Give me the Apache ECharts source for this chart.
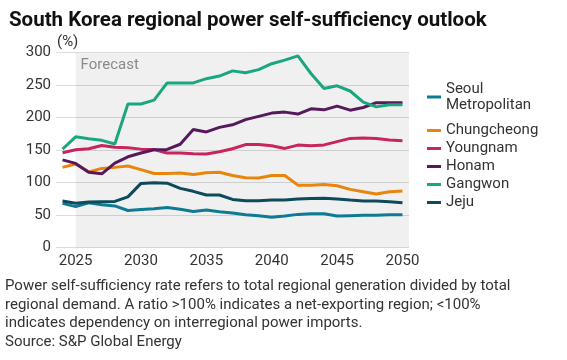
<!DOCTYPE html>
<html><head><meta charset="utf-8">
<script src="https://cdn.jsdelivr.net/npm/echarts@6/dist/echarts.min.js"></script>
<style>html,body{margin:0;padding:0;background:#fff}#c{width:567px;height:360px}</style>
</head><body><div id="c"></div>
<script>
const years = [2024,2025,2026,2027,2028,2029,2030,2031,2032,2033,2034,2035,2036,2037,2038,2039,2040,2041,2042,2043,2044,2045,2046,2047,2048,2049,2050];
const xTickLabels = [2025,2030,2035,2040,2045,2050];
const seriesNames = ['Seoul Metropolitan','Chungcheong','Youngnam','Honam','Gangwon','Jeju'];
const seoul = [68,63,69,66,64,57,58.5,59.7,61.5,59,55.5,57.7,55,53,50.5,49,46.5,48.5,51,52,52,48.5,49,49.5,49.5,50.5,50.5];
const chungcheong = [123.4,128.5,116.5,121.8,123.4,125.5,120,114,114,114.8,112.5,115,116,111,107.4,107,111,111,96,96,97,95,89.5,86,82.5,86,87];
const youngnam = [146,150.5,152,157,154.5,153.5,151.5,151,145.5,145.5,144.5,144,147.4,152,158.5,158.5,156.6,152.6,157.7,156.6,158,163,168,168.5,168,165.4,164.4];
const honam = [135,129.5,116,113.5,130,139.7,145.5,150.5,151,159,181.8,178,185,189,197,202,207,208.5,205.5,213.5,212,217.7,211.5,215.6,223,223,223];
const gangwon = [151.5,170.5,167.5,165,159.5,221,221,227,253.5,253.5,253.5,260,264,272,269,274,283,288.5,295,268,245,249,241,224,216.6,220,220];
const jeju = [71.5,68,70,70.5,71,78,98.7,99.7,99,91,86.5,80.8,80.8,74,72,72,73,73,74.6,75.6,76,74.6,73,71.5,71.5,70.5,69];
const forecastStart = 2025;
const xMin = 2023.5, xMax = 2050.5;

const values = [seoul, chungcheong, youngnam, honam, gangwon, jeju];
const colors = ['#0E7A94','#E8850C','#C8245E','#561A5C','#1AA77F','#0C4A5C'];
const FONT = 'Roboto, "Noto Sans", sans-serif';

const chart = echarts.init(document.getElementById('c'), null, {renderer:'canvas'});
const series = seriesNames.map((n, i) => {
  const s = {
    name: n, type: 'line', showSymbol: false, symbol: 'none',
    lineStyle: {width: 3, color: colors[i]}, itemStyle: {color: colors[i]},
    data: years.map((y, k) => [y, values[i][k]]),
    z: 3
  };
  if (i === 0) {
    s.markArea = {
      silent: true,
      itemStyle: {color: 'rgba(0,0,0,0.06)'},
      label: {show: true, position: 'insideTopLeft', formatter: 'Forecast', color: '#8a8a8a',
              fontSize: 15, fontFamily: FONT, distance: 5},
      data: [[{xAxis: forecastStart, yAxis: 300}, {xAxis: xMax, yAxis: 0}]]
    };
  }
  return s;
});

chart.setOption({
  animation: false,
  textStyle: {fontFamily: FONT},
  color: colors,
  title: {text: 'South Korea regional power self-sufficiency outlook', left: 4, top: 5,
    textStyle: {fontSize: 20.5, fontWeight: 'bold', color: '#111', fontFamily: FONT}},
  grid: {left: 56, right: 158, top: 52.7, bottom: 112.5, containLabel: false},
  xAxis: {
    type: 'value', min: xMin, max: xMax,
    axisLine: {show: false}, axisTick: {show: false}, splitLine: {show: false},
    axisLabel: {customValues: xTickLabels, color: '#333', fontSize: 15, margin: 6, fontFamily: FONT,
      formatter: v => String(v)}
  },
  yAxis: {
    type: 'value', min: 0, max: 300, interval: 50,
    axisLine: {show: false}, axisTick: {show: false},
    splitLine: {lineStyle: {color: '#dcdcdc', width: 1}},
    axisLabel: {color: '#333', fontSize: 15, margin: 5, fontFamily: FONT}
  },
  legend: {
    orient: 'vertical', left: 427, top: 73, padding: 0, itemGap: 1,
    icon: 'rect', itemWidth: 14, itemHeight: 3,
    textStyle: {fontSize: 15, color: '#333', lineHeight: 17, fontFamily: FONT},
    formatter: n => n === 'Seoul Metropolitan' ? 'Seoul\nMetropolitan' : n,
    data: seriesNames.map((n, i) => i === 0
      ? {name: n, textStyle: {lineHeight: 16, padding: [16, 0, 0, 0]}}
      : {name: n})
  },
  graphic: [
    {type: 'text', left: 57, top: 35, style: {text: '(%)', fontSize: 15, fill: '#333', fontFamily: FONT}},
    {type: 'text', left: 5, top: 277, style: {
      text: 'Power self-sufficiency rate refers to total regional generation divided by total\nregional demand. A ratio >100% indicates a net-exporting region; <100%\nindicates dependency on interregional power imports.\nSource: S&P Global Energy',
      fontSize: 15, lineHeight: 18.5, fill: '#333', fontFamily: FONT}}
  ],
  series: series
});
</script></body></html>
